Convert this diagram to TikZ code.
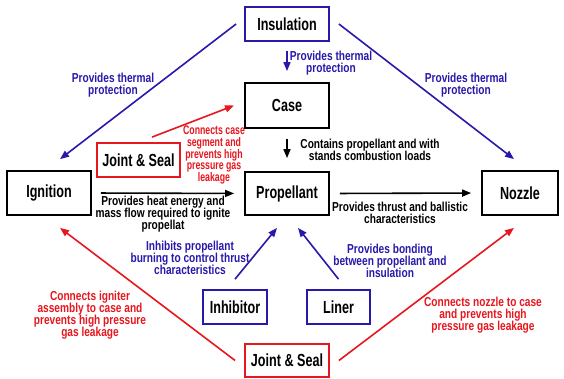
\documentclass[tikz,border=0pt]{standalone}
\usepackage{fontspec}
\setmainfont{Liberation Sans}
\newfontfamily\condfont{Liberation Sans}[FakeStretch=0.78]
\newfontfamily\narrowcond{Liberation Sans}[FakeStretch=0.7]
\newfontfamily\boxcond{Liberation Sans}[FakeStretch=0.72]
\usetikzlibrary{arrows.meta}
\definecolor{dblue}{RGB}{40,25,170}
\definecolor{dred}{RGB}{232,22,30}
\newcommand{\tightlines}{\lineskiplimit=-20pt\relax}
\begin{document}
\begin{tikzpicture}[x=1pt,y=-1pt,
  box/.style={draw, line width=1.8pt, inner sep=0pt, font=\boxcond\bfseries\fontsize{17.5}{17.5}\selectfont},
  lbl/.style={align=center, inner sep=0pt, font=\condfont\bfseries\fontsize{13}{12}\selectfont, execute at begin node=\tightlines},
  narrowlbl/.style={lbl, font=\narrowcond\bfseries\fontsize{12.5}{11.8}\selectfont},
  conn/.style={line width=1.6pt, -{Triangle[length=9pt,width=7pt]}},
]
\fill[white] (0,0) rectangle (564,378);
\useasboundingbox (0,0) rectangle (564,378);

% boxes
\node[box, dblue, text=black, minimum width=84pt, minimum height=34pt] (ins) at (287,24) {Insulation};
\node[box, minimum width=84pt, minimum height=45pt] (case) at (287,105.5) {Case};
\node[box, minimum width=84pt, minimum height=43pt] (prop) at (287,193.5) {Propellant};
\node[box, minimum width=84pt, minimum height=44pt] (ign) at (49,193) {Ignition};
\node[box, minimum width=76pt, minimum height=44pt] (noz) at (520,193) {Nozzle};
\node[box, dred, text=black, minimum width=83pt, minimum height=34pt] (jst) at (138.5,160) {Joint \& Seal};
\node[box, dblue, text=black, minimum width=64pt, minimum height=34pt] (inh) at (235,307) {Inhibitor};
\node[box, dblue, text=black, minimum width=63pt, minimum height=34pt] (lin) at (338.5,307) {Liner};
\node[box, dred, text=black, minimum width=84pt, minimum height=33pt] (jsb) at (287,360.5) {Joint \& Seal};

% connectors
\draw[conn, dblue] ([xshift=-8pt]ins.west) -- ([xshift=11pt,yshift=11pt]ign.north);
\draw[conn, dblue] ([xshift=9pt]ins.east) -- ([xshift=-6pt,yshift=11pt]noz.north);
\draw[conn, dblue, shorten <=9pt, shorten >=11pt] (ins.south) -- (case.north);
\draw[conn, dred] ([xshift=13.5pt,yshift=5pt]jst.north) -- ([xshift=-10pt]case.west);
\draw[conn, black, shorten <=10pt, shorten >=13pt] (case.south) -- (prop.north);
\draw[conn, black, shorten <=9pt, shorten >=10pt] (ign.east) -- (prop.west);
\draw[conn, black, shorten <=10pt, shorten >=10pt] (prop.east) -- (noz.west);
\draw[conn, dblue] ([yshift=10pt]inh.north) -- ([xshift=-10pt,yshift=-12pt]prop.south);
\draw[conn, dblue] ([yshift=10pt]lin.north) -- ([xshift=11pt,yshift=-12pt]prop.south);
\draw[conn, dred] ([xshift=-9pt]jsb.west) -- ([xshift=11pt,yshift=-12pt]ign.south);
\draw[conn, dred] ([xshift=9pt]jsb.east) -- ([xshift=-6pt,yshift=-12pt]noz.south);

% labels
\node[lbl, dblue] (l1) at (113,85) {Provides thermal\\protection};
\node[lbl, dblue] (l2) at (331,63) {Provides thermal\\protection};
\node[lbl, dblue] (l3) at (466,85) {Provides thermal\\protection};
\node[narrowlbl, dred] (l4) at (214,155) {Connects case\\segment and\\prevents high\\pressure gas\\leakage};
\node[lbl] (l5) at (370,150) {Contains propellant and with\\stands combustion loads};
\node[lbl] (l6) at (163,214) {Provides heat energy and\\mass flow required to ignite\\propellat};
\node[lbl] (l7) at (400,213) {Provides thrust and ballistic\\characteristics};
\node[lbl, dblue] (l8) at (190,258) {Inhibits propellant\\burning to control thrust\\characteristics};
\node[lbl, dblue] (l9) at (390,261) {Provides bonding\\between propellant and\\insulation};
\node[lbl, dred] (l10) at (90,315) {Connects igniter\\assembly to case and\\prevents high pressure\\gas leakage};
\node[lbl, dred] (l11) at (483,315) {Connects nozzle to case\\and prevents high\\pressure gas leakage};
\end{tikzpicture}
\end{document}
